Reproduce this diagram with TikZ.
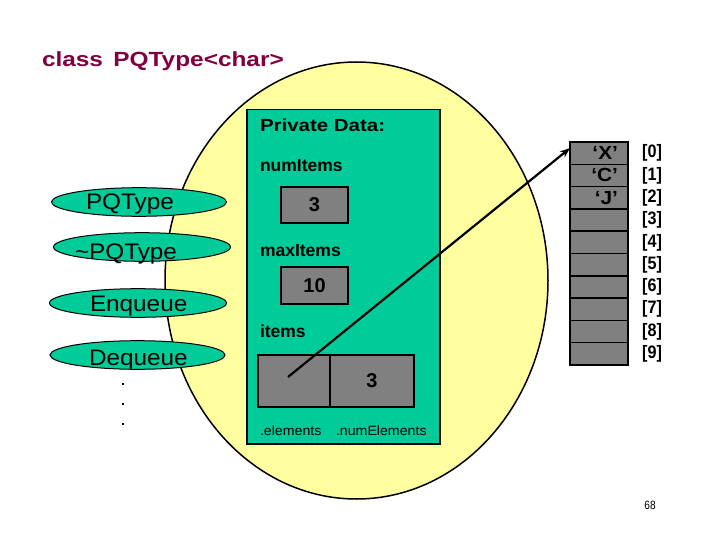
\documentclass[tikz,border=0pt]{standalone}
\usepackage{fontspec}
\setmainfont{Liberation Sans}
\usetikzlibrary{shapes.geometric,arrows.meta}
\definecolor{titlered}{RGB}{128,0,64}
\definecolor{pale}{RGB}{255,255,160}
\definecolor{tealbox}{RGB}{0,204,153}
\definecolor{cellgray}{RGB}{128,128,128}
\begin{document}
\begin{tikzpicture}[x=1pt,y=-1pt,
  txt/.style={inner sep=0pt, outer sep=0pt},
  lbl/.style={txt, anchor=base west, font=\fontsize{17.5}{20}\selectfont\bfseries},
  meth/.style={txt, anchor=base west, xscale=1.08, font=\fontsize{22.5}{26}\selectfont},
  methshape/.style={ellipse, draw=black, line width=1pt, fill=tealbox, inner sep=0pt, minimum height=28.6},
  grbox/.style={rectangle, draw=black, line width=1.5pt, fill=cellgray, inner sep=0pt, outer sep=0pt, anchor=north west, font=\fontsize{20}{23}\selectfont\bfseries},
  cell/.style={rectangle, draw=black, line width=1.5pt, fill=cellgray, inner sep=0pt, outer sep=0pt, minimum width=58, minimum height=22.3},
  idx/.style={txt, xscale=0.9, font=\fontsize{18}{21}\selectfont\bfseries},
  val/.style={txt, anchor=east, xscale=1.1, font=\fontsize{19}{22}\selectfont\bfseries},
  dotsq/.style={rectangle, fill=black, inner sep=0pt, minimum size=2.5}]
\fill[white] (0,0) rectangle (720,540);
\useasboundingbox (0,0) rectangle (720,540);
% title
\node[txt, anchor=base west, xscale=1.19, text=titlered, font=\fontsize{20.5}{24}\selectfont\bfseries] (title) at (42,66.7) {class\ \hspace{3pt}PQType<char>};
% class ellipse
\node[ellipse, draw=black, line width=1.5pt, fill=pale, minimum width=383, minimum height=437, inner sep=0pt] (cls) at (356.5,280.5) {};
% private data box
\node[rectangle, draw=black, line width=1.5pt, fill=tealbox, anchor=north west, minimum width=193, minimum height=334, inner sep=0pt] (priv) at (246,109) {};
\node[lbl, xscale=1.17] (privt) at (260,131.7) {Private Data:};
\node[lbl] (numl) at (260,171.7) {numItems};
\node[grbox, minimum width=67, minimum height=36] (numb) at (281,187) {3};
\node[lbl] (maxl) at (260,256) {maxItems};
\node[grbox, minimum width=67, minimum height=37] (maxb) at (281,267) {10};
\node[lbl] (iteml) at (260,337.3) {items};
\node[grbox, minimum width=72, minimum height=52] (itemsL) at (258,355) {};
\node[grbox, minimum width=84, minimum height=52] (itemsR) at (330,355) {3};
\node[txt, anchor=base west, xscale=1.05, font=\fontsize{13.5}{16}\selectfont] (elt) at (260,435) {.elements};
\node[txt, anchor=base west, xscale=1.05, font=\fontsize{13.5}{16}\selectfont] (nel) at (336,435) {.numElements};
% methods
\node[methshape, minimum width=175] (m1) at (139,202) {};
\node[meth] (m1t) at (86,209.3) {PQType};
\node[methshape, minimum width=177] (m2) at (142,247) {};
\node[meth] (m2t) at (75,259.3) {\char`\~PQType};
\node[methshape, minimum width=177] (m3) at (138,303) {};
\node[meth] (m3t) at (90,311.7) {Enqueue};
\node[methshape, minimum width=175] (m4) at (137.5,355) {};
\node[meth] (m4t) at (89,365) {Dequeue};
\node[dotsq] (d1) at (123,384) {};
\node[dotsq] (d2) at (123,404) {};
\node[dotsq] (d3) at (123,424) {};
% array
\foreach \i in {0,...,9} {
  \node[cell] (c\i) at (599,{153.15+22.3*\i}) {};
  \node[idx] (l\i) at (652,{153.15+22.3*\i}) {[\i]};
}
\node[val] (vX) at ([xshift=-10pt]c0.east) {‘X’};
\node[val] (vC) at ([xshift=-10pt]c1.east) {‘C’};
\node[val] (vJ) at ([xshift=-10pt]c2.east) {‘J’};
% pointer
\coordinate (ptr) at (288,377);
\draw[line width=2.2pt, -{Stealth[length=10pt,width=7.5pt]}] (ptr) -- ([yshift=5pt]c0.west);
% page number
\node[txt, xscale=0.85, font=\fontsize{12}{14}\selectfont] (pg) at (650,505) {68};
\end{tikzpicture}
\end{document}
